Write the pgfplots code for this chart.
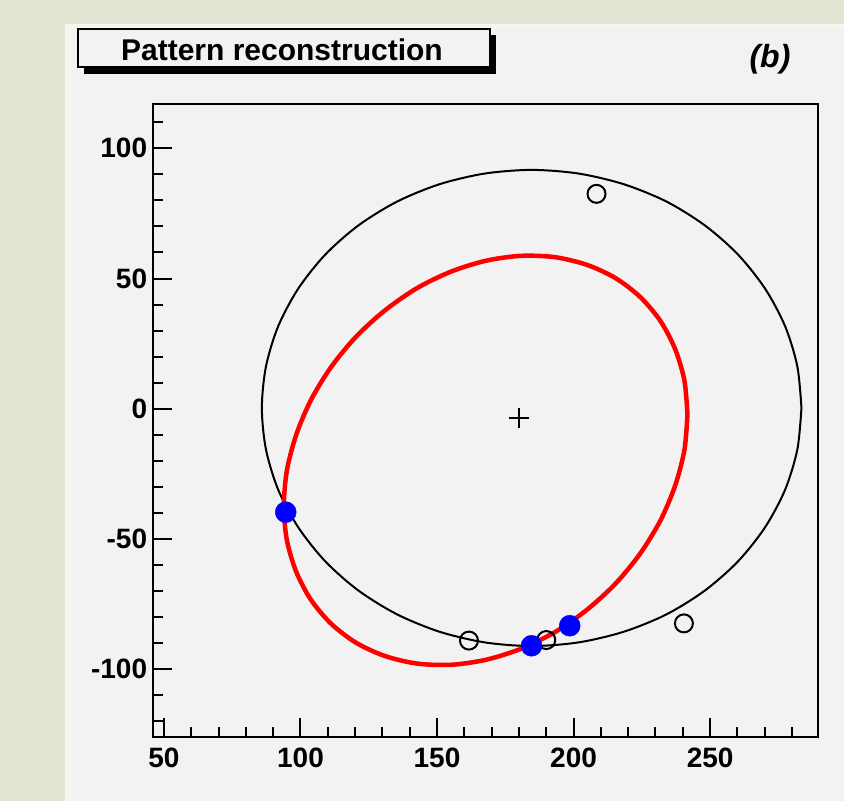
\documentclass[border=0pt]{standalone}
\usepackage{pgfplots}
\pgfplotsset{compat=1.18}
\usepackage{fontspec}
\setmainfont{Liberation Sans}
\definecolor{bgbeige}{RGB}{228,228,212}
\definecolor{padstrip}{RGB}{247,247,240}
\definecolor{padgray}{RGB}{242,242,242}
\begin{document}
\begin{tikzpicture}
\fill[bgbeige] (0pt,0pt) rectangle (844pt,801pt);
\useasboundingbox (0pt,0pt) rectangle (844pt,801pt);
\fill[padstrip] (65pt,0pt) rectangle (844pt,777pt);
\fill[padgray] (72pt,0pt) rectangle (844pt,774pt);
% title box with shadow
\fill[black] (84pt,727pt) rectangle (496pt,766pt);
\filldraw[fill=padgray,draw=black,line width=2pt] (78pt,734pt) rectangle (489.5pt,771.5pt);
\node[inner sep=0pt,font=\fontsize{30}{30}\selectfont\bfseries] at (282pt,751pt) {Pattern reconstruction};
\node[inner sep=0pt,font=\fontsize{32}{32}\selectfont\bfseries\itshape] at (770pt,742pt) {(b)};
\begin{axis}[
  at={(153.3pt,64.3pt)}, anchor=south west,
  scale only axis, width=664.4pt, height=632.7pt,
  xmin=46.1, xmax=289.4, ymin=-125.9, ymax=117,
  axis line style={line width=2pt},
  tick pos=left, tick align=inside,
  xtick={50,100,150,200,250}, xticklabels={50,100,150,200,250},
  ytick={-100,-50,0,50,100}, yticklabels={-100,-50,0,50,100},
  minor xtick={50,60,...,280}, minor ytick={-120,-110,...,110},
  major tick length=19pt, minor tick length=9.5pt,
  every tick/.style={black,line width=2pt},
  ticklabel style={font=\fontsize{28}{28}\selectfont\bfseries},
  xticklabel style={anchor=north,inner sep=0pt,yshift=-11pt},
  yticklabel style={anchor=east,inner sep=0pt,xshift=-6pt},
  clip=false,
]
\addplot[black,line width=2pt,smooth,mark=none] coordinates {
(283.45,0.3) (281.95,16.2) (277.5,31.6) (270.2,46.0) (260.3,59.1) (248.2,70.3) (234.1,79.5) (218.4,86.2) (201.8,90.3) (184.65,91.7) (167.5,90.3) (150.9,86.2) (135.3,79.5) (121.1,70.3) (109.0,59.1) (99.1,46.0) (91.8,31.6) (87.35,16.2) (85.85,0.3) (87.35,-15.6) (91.8,-31.0) (99.1,-45.4) (109.0,-58.5) (121.1,-69.7) (135.3,-78.9) (150.9,-85.6) (167.5,-89.7) (184.65,-91.1) (201.8,-89.7) (218.4,-85.6) (234.1,-78.9) (248.2,-69.7) (260.3,-58.5) (270.2,-45.4) (277.5,-31.0) (281.95,-15.6) (283.45,0.3)
};
\addplot[red,line width=4.5pt,smooth,mark=none] coordinates {
(241.7,-2.2) (240.6,-15.8) (237.2,-29.5) (231.8,-42.9) (224.4,-55.6) (215.3,-67.2) (204.75,-77.3) (193.1,-85.8) (180.6,-92.2) (167.8,-96.4) (155.0,-98.3) (142.5,-97.8) (130.85,-94.9) (120.3,-89.8) (111.2,-82.5) (103.8,-73.3) (98.4,-62.5) (95.0,-50.4) (93.9,-37.4) (95.0,-23.8) (98.4,-10.1) (103.8,3.3) (111.2,16.0) (120.3,27.6) (130.85,37.7) (142.5,46.2) (155.0,52.6) (167.8,56.8) (180.6,58.7) (193.1,58.2) (204.75,55.3) (215.3,50.2) (224.4,42.9) (231.8,33.7) (237.2,22.9) (240.6,10.8) (241.7,-2.2)
};
\addplot[only marks,mark=o,mark size=9pt,black,line width=2pt] coordinates {
(208.4,82.5) (161.7,-89.0) (190.0,-88.8) (240.4,-82.4)
};
\addplot[only marks,mark=*,mark size=10.5pt,draw=blue,fill=blue] coordinates {
(94.6,-39.7) (184.6,-91.0) (198.6,-83.3)
};
\addplot[only marks,mark=+,mark size=10pt,black,line width=2pt] coordinates {
(180.0,-3.5)
};
\end{axis}
\end{tikzpicture}
\end{document}
